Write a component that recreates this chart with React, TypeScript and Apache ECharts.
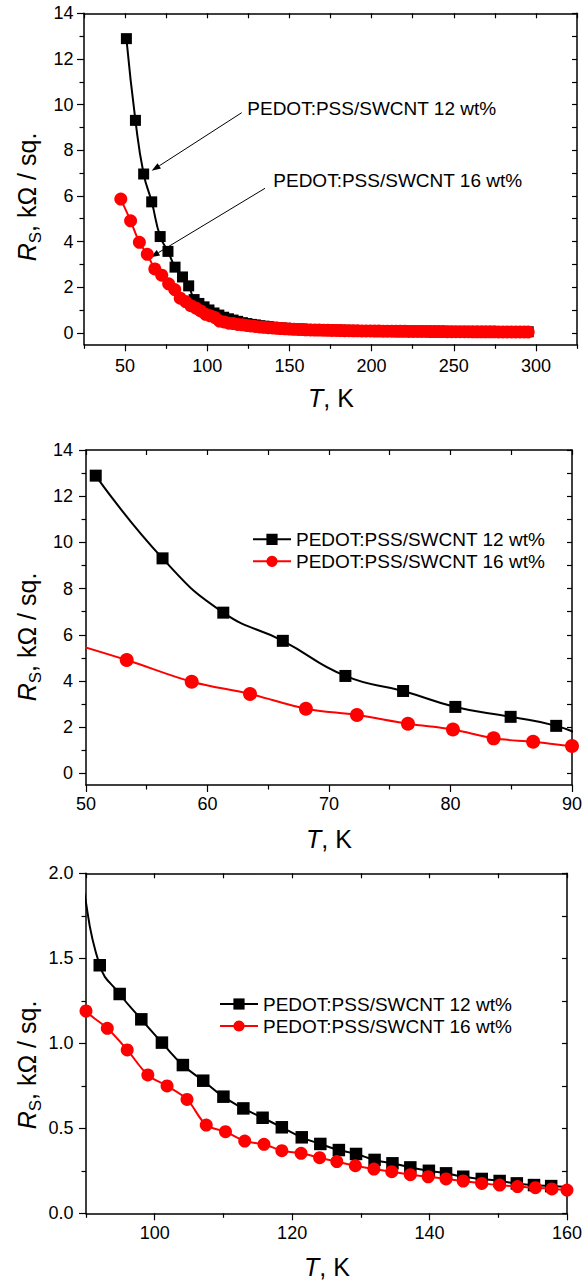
import React, { useEffect, useRef } from 'react';
import * as echarts from 'echarts';

const S12 = 'PEDOT:PSS/SWCNT 12 wt%';
const S16 = 'PEDOT:PSS/SWCNT 16 wt%';
const FONT = '"Liberation Sans", Arial, Helvetica, sans-serif';

// 12 wt% (black squares), low-temperature part
const blackHeadT = [50.8, 56.3, 61.3, 66.2, 71.35, 76.1, 80.4, 84.95, 88.7, 92.0, 94.9, 98.05, 101.05, 104.1, 107.06, 110.0, 112.9, 115.7, 118.5, 121.4, 124.1, 126.8, 129.3, 132.0, 134.6, 137.2, 139.9, 142.4, 144.9, 147.6, 150.2, 152.7, 155.2, 157.7, 160.2];
const blackHeadR = [12.89, 9.31, 6.96, 5.74, 4.22, 3.57, 2.88, 2.45, 2.06, 1.459, 1.29, 1.141, 1.004, 0.872, 0.78, 0.686, 0.617, 0.562, 0.506, 0.447, 0.408, 0.372, 0.349, 0.314, 0.294, 0.27, 0.25, 0.235, 0.215, 0.202, 0.19, 0.176, 0.166, 0.16, 0.155];

// 16 wt% (red circles), low-temperature part
const redHeadT = [47.4, 53.35, 58.7, 63.5, 68.1, 72.3, 76.5, 80.2, 83.55, 86.8, 90.0, 93.1, 96.0, 99.0, 101.8, 104.7, 107.5, 110.3, 113.1, 115.9, 118.5, 121.3, 124.0, 126.5, 129.2, 131.9, 134.5, 137.2, 139.8, 142.4, 144.9, 147.6, 150.2, 152.8, 155.4, 157.8, 160.0];
const redHeadR = [5.86, 4.91, 3.97, 3.44, 2.80, 2.53, 2.15, 1.90, 1.52, 1.37, 1.19, 1.088, 0.961, 0.814, 0.749, 0.67, 0.519, 0.48, 0.425, 0.406, 0.368, 0.353, 0.327, 0.304, 0.28, 0.26, 0.245, 0.227, 0.215, 0.202, 0.19, 0.176, 0.166, 0.157, 0.151, 0.143, 0.137];

// high-temperature part (both samples measured at the same temperatures)
const tailT = [162.9, 165.5, 168.1, 170.7, 173.3, 175.9, 178.5, 181.1, 183.7, 186.3, 188.9, 191.5, 194.1, 196.7, 199.3, 201.9, 204.5, 207.1, 209.7, 212.3, 214.9, 217.5, 220.1, 222.7, 225.3, 227.9, 230.5, 233.1, 235.7, 238.3, 240.9, 243.5, 246.1, 248.7, 251.3, 253.9, 256.5, 259.1, 261.7, 264.3, 266.9, 269.5, 272.1, 274.7, 277.3, 279.9, 282.5, 285.1, 287.7, 290.3, 292.9, 295.3];
const blackTailR = [0.149, 0.143, 0.138, 0.133, 0.128, 0.124, 0.120, 0.116, 0.112, 0.109, 0.106, 0.103, 0.100, 0.097, 0.095, 0.092, 0.090, 0.088, 0.086, 0.084, 0.082, 0.080, 0.078, 0.077, 0.075, 0.074, 0.072, 0.071, 0.069, 0.068, 0.067, 0.066, 0.065, 0.063, 0.062, 0.061, 0.060, 0.059, 0.058, 0.058, 0.057, 0.056, 0.055, 0.054, 0.054, 0.053, 0.052, 0.052, 0.051, 0.050, 0.050, 0.049];
const redTailR = [0.131, 0.126, 0.121, 0.117, 0.113, 0.109, 0.105, 0.102, 0.099, 0.096, 0.093, 0.090, 0.088, 0.085, 0.083, 0.081, 0.079, 0.077, 0.075, 0.073, 0.071, 0.070, 0.068, 0.066, 0.065, 0.063, 0.062, 0.061, 0.059, 0.058, 0.057, 0.056, 0.055, 0.054, 0.053, 0.052, 0.051, 0.050, 0.049, 0.048, 0.047, 0.047, 0.046, 0.045, 0.044, 0.044, 0.043, 0.042, 0.042, 0.041, 0.040, 0.040];

// tick values
const X1_MAJOR = [50, 100, 150, 200, 250, 300];
const X1_MINOR = [25, 75, 125, 175, 225, 275, 325];
const X1_TOP = [25, 50, 75, 100, 125, 150, 175, 200, 225, 250, 275, 300, 325];
const Y1_MAJOR = [0, 2, 4, 6, 8, 10, 12, 14];
const Y1_MINOR = [1, 3, 5, 7, 9, 11, 13];
const Y1_RIGHT = [0, 1, 2, 3, 4, 5, 6, 7, 8, 9, 10, 11, 12, 13, 14];
const X2_MAJOR = [50, 60, 70, 80, 90];
const X2_MINOR = [55, 65, 75, 85];
const X2_TOP = [50, 55, 60, 65, 70, 75, 80, 85, 90];
const X3_MAJOR = [100, 120, 140, 160];
const X3_MINOR = [90, 110, 130, 150];
const X3_TOP = [90, 100, 110, 120, 130, 140, 150, 160];
const Y3_MAJOR = [0, 0.5, 1.0, 1.5, 2.0];
const Y3_MINOR = [0.25, 0.75, 1.25, 1.75];
const Y3_RIGHT = [0, 0.25, 0.5, 0.75, 1.0, 1.25, 1.5, 1.75, 2.0];

const blackData = blackHeadT.map((t, i) => [t, blackHeadR[i]]).concat(tailT.map((t, i) => [t, blackTailR[i]]));
const redData = redHeadT.map((t, i) => [t, redHeadR[i]]).concat(tailT.map((t, i) => [t, redTailR[i]]));

const PANELS = [
  { grid: { left: 84, top: 13.3, width: 493, height: 331 }, xMin: 25, xMax: 325, xMajor: X1_MAJOR, xMinor: X1_MINOR, xTop: X1_TOP, yMin: -0.5, yMax: 14, yMajor: Y1_MAJOR, yMinor: Y1_MINOR, yRight: Y1_RIGHT, yFmt: (v: number) => String(v), xMargin: 12.5, yMargin: 10.5, sq: 11, ci: 13 },
  { grid: { left: 86, top: 450, width: 486, height: 335 }, xMin: 50, xMax: 90, xMajor: X2_MAJOR, xMinor: X2_MINOR, xTop: X2_TOP, yMin: -0.5, yMax: 14, yMajor: Y1_MAJOR, yMinor: Y1_MINOR, yRight: Y1_RIGHT, yFmt: (v: number) => String(v), xMargin: 10, yMargin: 13, sq: 12, ci: 14 },
  { grid: { left: 86, top: 873.3, width: 481, height: 340 }, xMin: 90, xMax: 160, xMajor: X3_MAJOR, xMinor: X3_MINOR, xTop: X3_TOP, yMin: 0, yMax: 2, yMajor: Y3_MAJOR, yMinor: Y3_MINOR, yRight: Y3_RIGHT, yFmt: (v: number) => v.toFixed(1), xMargin: 10.5, yMargin: 12.5, sq: 12.5, ci: 13 },
];

const LINE = { color: '#000', width: 1.5 };
const TICK = { color: '#000', width: 1.2 };

function buildOption() {
  const xAxis: any[] = [];
  const yAxis: any[] = [];
  const series: any[] = [];
  PANELS.forEach((p, g) => {
    const xi = xAxis.length;
    xAxis.push({
      type: 'value', gridIndex: g, min: p.xMin, max: p.xMax, position: 'bottom',
      axisLine: { show: true, onZero: false, lineStyle: LINE },
      axisTick: { show: true, customValues: p.xMajor, length: 7, lineStyle: TICK },
      axisLabel: { show: true, customValues: p.xMajor, margin: p.xMargin, color: '#000', fontSize: 18, fontFamily: FONT },
      splitLine: { show: false },
    });
    xAxis.push({
      type: 'value', gridIndex: g, min: p.xMin, max: p.xMax, position: 'bottom',
      axisLine: { show: false, onZero: false },
      axisTick: { show: true, customValues: p.xMinor, length: 4.5, lineStyle: TICK },
      axisLabel: { show: false }, splitLine: { show: false },
    });
    xAxis.push({
      type: 'value', gridIndex: g, min: p.xMin, max: p.xMax, position: 'top',
      axisLine: { show: true, onZero: false, lineStyle: LINE },
      axisTick: { show: true, inside: true, customValues: p.xTop, length: 5, lineStyle: TICK },
      axisLabel: { show: false }, splitLine: { show: false },
    });
    const yi = yAxis.length;
    yAxis.push({
      type: 'value', gridIndex: g, min: p.yMin, max: p.yMax, position: 'left',
      axisLine: { show: true, onZero: false, lineStyle: LINE },
      axisTick: { show: true, customValues: p.yMajor, length: 7, lineStyle: TICK },
      axisLabel: { show: true, customValues: p.yMajor, margin: p.yMargin, color: '#000', fontSize: 18, fontFamily: FONT, formatter: p.yFmt },
      splitLine: { show: false },
    });
    yAxis.push({
      type: 'value', gridIndex: g, min: p.yMin, max: p.yMax, position: 'left',
      axisLine: { show: false, onZero: false },
      axisTick: { show: true, customValues: p.yMinor, length: 4.5, lineStyle: TICK },
      axisLabel: { show: false }, splitLine: { show: false },
    });
    yAxis.push({
      type: 'value', gridIndex: g, min: p.yMin, max: p.yMax, position: 'right',
      axisLine: { show: true, onZero: false, lineStyle: LINE },
      axisTick: { show: true, inside: true, customValues: p.yRight, length: 5, lineStyle: TICK },
      axisLabel: { show: false }, splitLine: { show: false },
    });
    series.push({
      type: 'line', name: S12, xAxisIndex: xi, yAxisIndex: yi, data: blackData,
      symbol: 'rect', symbolSize: p.sq, smooth: 0.5,
      lineStyle: { color: '#000', width: 2 }, itemStyle: { color: '#000' }, clip: true, z: 2,
    });
    series.push({
      type: 'line', name: S16, xAxisIndex: xi, yAxisIndex: yi, data: redData,
      symbol: 'circle', symbolSize: p.ci, smooth: 0.35,
      lineStyle: { color: '#ff0000', width: 2 }, itemStyle: { color: '#ff0000' }, clip: true, z: 3,
    });
  });

  const legendBase = {
    orient: 'vertical', itemWidth: 38, itemHeight: 14, itemGap: 2, padding: 0,
    textStyle: { color: '#000', fontSize: 19, fontFamily: FONT, lineHeight: 20 },
    data: [S12, S16], selectedMode: false,
  };

  const arrow = (x1: number, y1: number, x2: number, y2: number) => {
    const dx = x2 - x1, dy = y2 - y1;
    const L = Math.sqrt(dx * dx + dy * dy);
    const ux = dx / L, uy = dy / L;
    const hl = 9, hw = 3.2;
    const bx = x2 - ux * hl, by = y2 - uy * hl;
    return [
      { type: 'line', shape: { x1, y1, x2: bx, y2: by }, style: { stroke: '#000', lineWidth: 1 } },
      { type: 'polygon', shape: { points: [[x2, y2], [bx - uy * hw, by + ux * hw], [bx + uy * hw, by - ux * hw]] }, style: { fill: '#000' } },
    ];
  };

  const yTitle = (y: number) => ({
    type: 'text', x: 27, y, rotation: Math.PI / 2,
    style: {
      text: '{r|R}{s|S}{n|, kΩ / sq.}', align: 'center', verticalAlign: 'middle', fill: '#000',
      rich: {
        r: { fontSize: 25, fontStyle: 'italic', fontFamily: FONT, lineHeight: 34, fill: '#000' },
        s: { fontSize: 17, fontFamily: FONT, verticalAlign: 'bottom', lineHeight: 17, fill: '#000' },
        n: { fontSize: 25, fontFamily: FONT, lineHeight: 34, fill: '#000' },
      },
    },
  });
  const xTitle = (x: number, y: number) => ({
    type: 'text', x, y,
    style: {
      text: '{t|T}{n|, K}', align: 'center', verticalAlign: 'middle', fill: '#000',
      rich: {
        t: { fontSize: 25, fontStyle: 'italic', fontFamily: FONT, fill: '#000' },
        n: { fontSize: 25, fontFamily: FONT, fill: '#000' },
      },
    },
  });
  const annot = (x: number, y: number, text: string) => ({
    type: 'text', x, y,
    style: { text, fontSize: 19, fontFamily: FONT, fill: '#000', align: 'left', verticalAlign: 'middle' },
  });

  const graphic = [
    annot(247.3, 108.3, S12),
    annot(273.3, 180, S16),
    ...arrow(241.7, 112.7, 151.7, 170.7),
    ...arrow(265, 188.3, 150.7, 257.3),
    yTitle(197), yTitle(637), yTitle(1065),
    xTitle(331, 398), xTitle(329, 839), xTitle(327, 1267),
  ];

  return {
    animation: false,
    backgroundColor: '#fff',
    grid: PANELS.map((p) => ({ ...p.grid, containLabel: false })),
    xAxis, yAxis, series,
    legend: [
      { ...legendBase, left: 252, top: 529.3 },
      { ...legendBase, left: 219, top: 994 },
    ],
    graphic,
  };
}

export default function App() {
  const ref = useRef<HTMLDivElement>(null);
  useEffect(() => {
    if (!ref.current) return;
    const chart = echarts.init(ref.current, undefined, { renderer: 'svg' });
    chart.setOption(buildOption() as any);
    return () => chart.dispose();
  }, []);
  return <div ref={ref} style={{ position: 'absolute', left: 0, top: 0, width: 585, height: 1285, background: '#fff' }} />;
}
